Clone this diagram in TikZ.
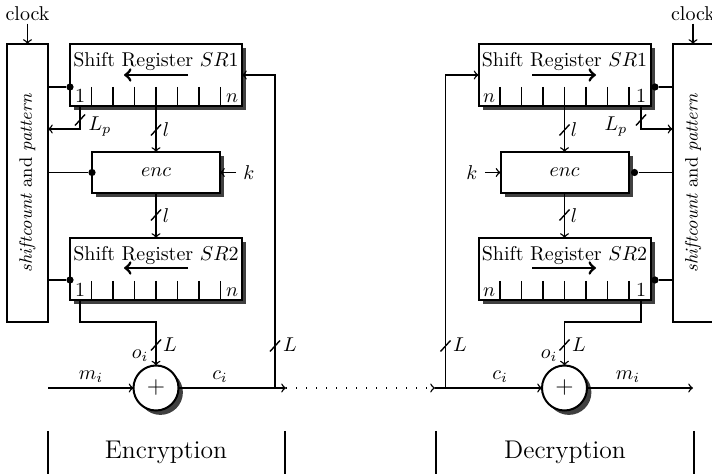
\documentclass[tikz,border=0pt]{standalone}
\usetikzlibrary{shadows}
\begin{document}
\begin{tikzpicture}[x=0.5pt, y=-0.5pt, line width=0.7pt,
  reg/.style={shape=rectangle, draw, fill=white, line width=1pt, minimum width=86pt, minimum height=31pt, inner sep=0pt, outer sep=0pt,
    drop shadow={shadow xshift=2.2pt, shadow yshift=-2.2pt, fill=black!75, opacity=1}},
  encbox/.style={reg, minimum width=64pt, minimum height=20.5pt},
  pat/.style={shape=rectangle, draw, line width=1pt, minimum width=20.5pt, minimum height=139pt, inner sep=0pt, outer sep=0pt},
  xor/.style={shape=circle, draw, fill=white, line width=1pt, minimum size=22.5pt, inner sep=0pt, outer sep=0pt,
    drop shadow={shadow xshift=2.2pt, shadow yshift=-2.2pt, fill=black!75, opacity=1}},
  dot/.style={shape=circle, fill=black, inner sep=0pt, minimum size=3.6pt, node contents=},
  shiftarrow/.style={->, line width=1.4pt},
  caption/.style={font=\fontsize{12.8pt}{15pt}\selectfont},
  pattxt/.style={rotate=90, font=\small},
]
\useasboundingbox (0,0) rectangle (712,474);

%encryption side
\node[inner sep=1pt] (clkL) at (27.5,14) {clock};
\node (patL) at (27.5,183) [pat] {};
\node[pattxt] (patTxtL) at (patL) {\textit{shiftcount} and \textit{pattern}};
\draw[->] (clkL.south) -- (patL.north);

\node (sr1L) at (156,75) [reg] {};
\node[anchor=base] (sr1TxtL) at (156,67) {Shift Register $SR1$};
\draw[shiftarrow] (188,75) -- (124,75);
\foreach \i in {1,...,7} \draw (70+\i*21.5,87) -- (70+\i*21.5,106);
\node[anchor=base] (oneA) at (80,103) {1};
\node[anchor=base] (nA) at (232,103) {$n$};

\node (encL) at (156,172.5) [encbox] {$enc$};
\node (kL) at (249,172.5) {$k$};

\node (sr2L) at (156,269) [reg] {};
\node[anchor=base] (sr2TxtL) at (156,261) {Shift Register $SR2$};
\draw[shiftarrow] (188,268) -- (124,268);
\foreach \i in {1,...,7} \draw (70+\i*21.5,281) -- (70+\i*21.5,300);
\node[anchor=base] (oneB) at (80,297) {1};
\node[anchor=base] (nB) at (232,297) {$n$};

\node (xorL) at (156,388) [xor] {\large$+$};

\draw 
node (dA) at (70,87) [dot] {}
node (dB) at (encL.west) [dot] {}
node (dC) at (70,280) [dot] {};
\draw (dA) -- (dA -| patL.east);
\draw (dB) -- (dB -| patL.east);
\draw (dC) -- (dC -| patL.east);

\coordinate (o1L) at (80,106);
\coordinate (lpL) at (80,129);
\draw[->] (o1L) -- (lpL) -- (lpL -| patL.east);
\draw[->] (sr1L) -- (encL);
\draw[->] (kL) -- (encL);
\draw[->] (encL) -- (sr2L);
\coordinate (o2L) at (80,300);
\draw[->] (o2L) -- ++(0,22) -| (xorL);

\coordinate (inL) at (48,388);
\coordinate (tapL) at (275,388);
\coordinate (outL) at (286,388);
\draw[->] (inL) -- (xorL);
\draw[->] (xorL) -- (outL);
\draw[->] (tapL) |- (sr1L);

%channel
\coordinate (inR) at (435,388);
\draw[->, dash pattern=on 0.5pt off 4.5pt] (outL) -- (inR);

%decryption side
\node[inner sep=1pt] (clkR) at (693,14) {clock};
\node (patR) at (693,183) [pat] {};
\node[pattxt] (patTxtR) at (patR) {\textit{shiftcount} and \textit{pattern}};
\draw[->] (clkR.south) -- (patR.north);

\node (sr1R) at (564.5,75) [reg] {};
\node[anchor=base] (sr1TxtR) at (564.5,67) {Shift Register $SR1$};
\draw[shiftarrow] (532,75) -- (596,75);
\foreach \i in {1,...,7} \draw (478.5+\i*21.5,87) -- (478.5+\i*21.5,106);
\node[anchor=base] (nC) at (489,103) {$n$};
\node[anchor=base] (oneC) at (641,103) {1};

\node (encR) at (564.5,172.5) [encbox] {$enc$};
\node (kR) at (472,172.5) {$k$};

\node (sr2R) at (564.5,269) [reg] {};
\node[anchor=base] (sr2TxtR) at (564.5,261) {Shift Register $SR2$};
\draw[shiftarrow] (532,268) -- (596,268);
\foreach \i in {1,...,7} \draw (478.5+\i*21.5,281) -- (478.5+\i*21.5,300);
\node[anchor=base] (nD) at (489,297) {$n$};
\node[anchor=base] (oneD) at (641,297) {1};

\node (xorR) at (564.5,388) [xor] {\large$+$};

\draw 
node (dD) at (655,87) [dot] {}
node (dE) at (634.5,172.5) [dot] {}
node (dF) at (655,280) [dot] {};
\draw (dD) -- (dD -| patR.west);
\draw (dE) -- (dE -| patR.west);
\draw (dF) -- (dF -| patR.west);

\coordinate (o1R) at (641,106);
\coordinate (lpR) at (641,129);
\draw[->] (o1R) -- (lpR) -- (lpR -| patR.west);
\draw[->] (sr1R) -- (encR);
\draw[->] (kR) -- (encR);
\draw[->] (encR) -- (sr2R);
\coordinate (o2R) at (641,300);
\draw[->] (o2R) -- ++(0,22) -| (xorR);

\coordinate (tapR) at (445.5,388);
\coordinate (outR) at (693,388);
\draw[->] (inR) -- (xorR);
\draw[->] (xorR) -- (outR);
\draw[->] (tapR) |- (sr1R);

%bus widths
\foreach \x/\y in {80/120, 156/130, 156/215, 156/345, 275/346, 641/120, 564.5/130, 564.5/215, 564.5/345, 445.5/346}
  \draw (\x-5,\y+5.5) -- (\x+5,\y-5.5);

%labels
\node (lpLab) at (100,127) {$L_p$};
\node (lA) at (166,130) {$l$};
\node (lB) at (166,216) {$l$};
\node (LA) at (170,345) {$L$};
\node (oA) at (140,356) {$o_i$};
\node (LB) at (290,345) {$L$};
\node (mA) at (91,377) {$m_i$};
\node (cA) at (220,377) {$c_i$};

\node (lpRab) at (616,127) {$L_p$};
\node (lC) at (574,130) {$l$};
\node (lD) at (574,216) {$l$};
\node (LC) at (579,345) {$L$};
\node (oB) at (549,356) {$o_i$};
\node (LD) at (460,345) {$L$};
\node (cB) at (500,377) {$c_i$};
\node (mB) at (628,377) {$m_i$};

%captions
\foreach \x in {48,285,436,694} \draw (\x,431) -- (\x,474);
\node[caption] (encCap) at (166,452) {Encryption};
\node[caption] (decCap) at (565,452) {Decryption};

\end{tikzpicture}
\end{document}
